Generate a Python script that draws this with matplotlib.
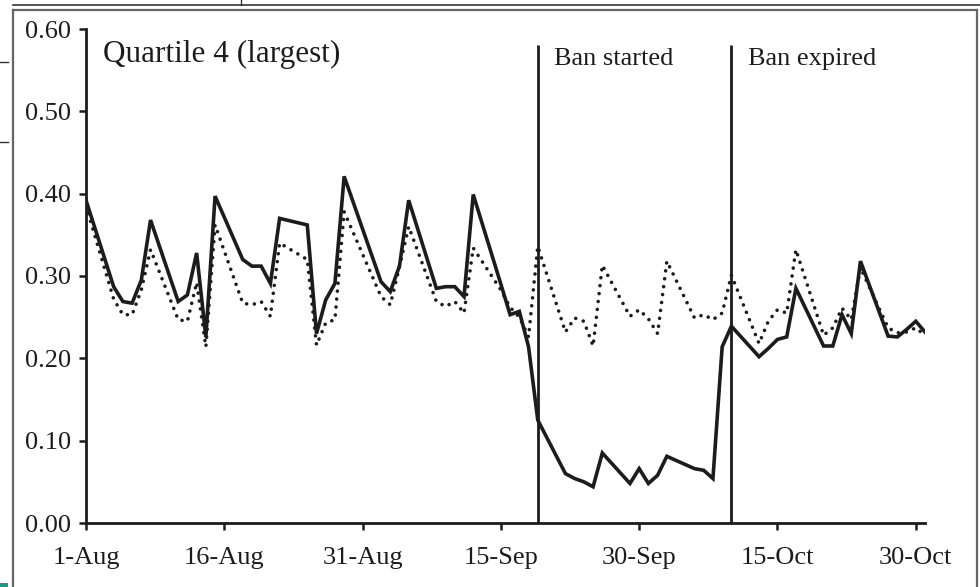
import numpy as np
import pandas as pd
import matplotlib
matplotlib.use("Agg")
import matplotlib.pyplot as plt
from matplotlib.lines import Line2D
from matplotlib.patches import Rectangle

plt.rcParams['font.family'] = ['Liberation Serif', 'DejaVu Serif']

# --- data (trading days, 2008) ---
dates = pd.to_datetime([
    "2008-08-01", "2008-08-04", "2008-08-05", "2008-08-06", "2008-08-07", "2008-08-08",
    "2008-08-11", "2008-08-12", "2008-08-13", "2008-08-14", "2008-08-15",
    "2008-08-18", "2008-08-19", "2008-08-20", "2008-08-21", "2008-08-22",
    "2008-08-25", "2008-08-26", "2008-08-27", "2008-08-28", "2008-08-29",
    "2008-09-02", "2008-09-03", "2008-09-04", "2008-09-05",
    "2008-09-08", "2008-09-09", "2008-09-10", "2008-09-11", "2008-09-12",
    "2008-09-15", "2008-09-16", "2008-09-17", "2008-09-18", "2008-09-19",
    "2008-09-22", "2008-09-23", "2008-09-24", "2008-09-25", "2008-09-26",
    "2008-09-29", "2008-09-30", "2008-10-01", "2008-10-02", "2008-10-03",
    "2008-10-06", "2008-10-07", "2008-10-08", "2008-10-09", "2008-10-10",
    "2008-10-13", "2008-10-14", "2008-10-15", "2008-10-16", "2008-10-17",
    "2008-10-20", "2008-10-21", "2008-10-22", "2008-10-23", "2008-10-24",
    "2008-10-27", "2008-10-28", "2008-10-29", "2008-10-30", "2008-10-31",
])

solid = [
    0.392, 0.287, 0.269, 0.267, 0.295, 0.368,
    0.269, 0.277, 0.328, 0.226, 0.397,
    0.320, 0.312, 0.312, 0.291, 0.370,
    0.362, 0.230, 0.271, 0.291, 0.421,
    0.293, 0.281, 0.312, 0.392,
    0.285, 0.287, 0.287, 0.275, 0.399,
    0.290, 0.253, 0.257, 0.214, 0.125,
    0.060, 0.054, 0.050, 0.044, 0.085,
    0.048, 0.066, 0.048, 0.058, 0.081,
    0.066, 0.064, 0.054, 0.214, 0.239,
    0.202, 0.212, 0.223, 0.226, 0.285,
    0.215, 0.215, 0.253, 0.230, 0.318,
    0.227, 0.226, 0.235, 0.245, 0.232,
]

dotted = [
    0.385, 0.272, 0.253, 0.253, 0.283, 0.332,
    0.247, 0.245, 0.292, 0.214, 0.362,
    0.267, 0.265, 0.269, 0.251, 0.340,
    0.320, 0.216, 0.243, 0.247, 0.378,
    0.275, 0.265, 0.311, 0.360,
    0.269, 0.263, 0.269, 0.255, 0.334,
    0.283, 0.262, 0.250, 0.226, 0.336,
    0.232, 0.249, 0.245, 0.215, 0.313,
    0.251, 0.259, 0.248, 0.230, 0.318,
    0.249, 0.253, 0.247, 0.255, 0.301,
    0.218, 0.245, 0.259, 0.255, 0.332,
    0.228, 0.237, 0.261, 0.247, 0.310,
    0.237, 0.231, 0.232, 0.237, 0.228,
]

tick_dates = pd.to_datetime(["2008-08-01", "2008-08-16", "2008-08-31", "2008-09-15",
                             "2008-09-30", "2008-10-15", "2008-10-30"])
tick_labels = ["1-Aug", "16-Aug", "31-Aug", "15-Sep", "30-Sep", "15-Oct", "30-Oct"]

events = pd.to_datetime(["2008-09-19", "2008-10-10"])
event_labels = ["Ban started", "Ban expired"]

y_ticks = [0.0, 0.1, 0.2, 0.3, 0.4, 0.5, 0.6]

ink = "#1c1c1c"

fig = plt.figure(figsize=(9.8, 5.87), dpi=100)
ax = fig.add_axes([86 / 980, 64 / 587, 839 / 980, 494 / 587])

ax.plot(dates, solid, color=ink, lw=2.6, solid_joinstyle="miter")
ax.plot(dates, dotted, color=ink, lw=2.6, linestyle=(0, (0.01, 2.2)),
        dash_capstyle="round")

for d, lab in zip(events, event_labels):
    ax.vlines(d, 0, 0.58, color=ink, lw=2.0)
    ax.annotate(lab, xy=(d, 0.58), xytext=(12, -14), textcoords="offset points",
                fontsize=19, color=ink, va="baseline", ha="left")

ax.text(0.02, 0.933, "Quartile 4 (largest)", transform=ax.transAxes,
        fontsize=22.5, color=ink, va="baseline", ha="left")

ax.set_xlim(pd.Timestamp("2008-08-01"), pd.Timestamp("2008-10-31"))
ax.set_ylim(0, 0.6)
ax.set_xticks(tick_dates)
ax.set_xticklabels(tick_labels)
ax.set_yticks(y_ticks)
ax.set_yticklabels([f"{v:.2f}" for v in y_ticks])

for s in ["top", "right"]:
    ax.spines[s].set_visible(False)
for s in ["left", "bottom"]:
    ax.spines[s].set_linewidth(2.0)
    ax.spines[s].set_color(ink)

ax.tick_params(axis="both", direction="out", length=5, width=1.8, color=ink,
               labelsize=19, labelcolor=ink)
ax.tick_params(axis="x", pad=12)
ax.tick_params(axis="y", pad=6)

# scanned-page frame around the chart
def fline(x0, y0, x1, y1, color="#666666", lw=1.6):
    fig.add_artist(Line2D([x0 / 980, x1 / 980], [1 - y0 / 587, 1 - y1 / 587],
                          transform=fig.transFigure, color=color, lw=lw))

fline(13, 10, 977, 10)
fline(13, 10, 13, 587)
fline(977, 10, 977, 587)
fline(13, 5, 980, 5, color="#333333", lw=1.2)
fline(241, 0, 241, 5, color="#333333", lw=1.0)
fline(0, 62, 8, 62, color="#333333", lw=1.0)
fline(0, 142, 8, 142, color="#333333", lw=1.0)
fig.add_artist(Rectangle((0, 0), 8 / 980, 4 / 587, transform=fig.transFigure,
                         color="#1a9a8a", lw=0))

fig.savefig("out.png", dpi=100)
